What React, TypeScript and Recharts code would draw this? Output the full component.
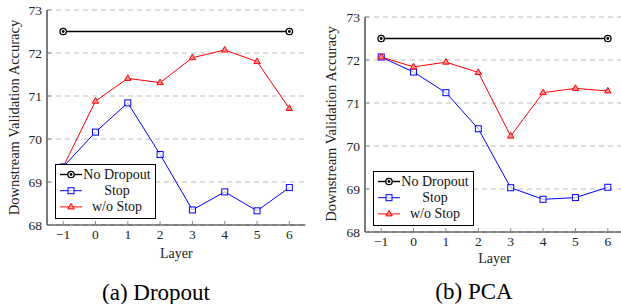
import React from "react";
import { LineChart, Line, XAxis, YAxis, CartesianGrid, Legend } from "recharts";

const layers = [-1, 0, 1, 2, 3, 4, 5, 6];
const noDropoutLayers = [-1, 6];
const yTicks = [68, 69, 70, 71, 72, 73];

const dropoutNoDropout = [72.5, 72.5];
const dropoutStop = [69.35, 70.16, 70.84, 69.64, 68.35, 68.77, 68.33, 68.87];
const dropoutWoStop = [69.35, 70.88, 71.41, 71.31, 71.89, 72.07, 71.8, 70.71];

const pcaNoDropout = [72.5, 72.5];
const pcaStop = [72.07, 71.72, 71.24, 70.4, 69.03, 68.76, 68.8, 69.04];
const pcaWoStop = [72.07, 71.84, 71.95, 71.71, 70.23, 71.24, 71.34, 71.28];

const seriesNames = ["No Dropout", "Stop", "w/o Stop"];
const FONT = "Liberation Serif";
const fontCss = `html body svg text, html body svg tspan { font-family: "Liberation Serif", serif !important; }`;

const toRows = (xs: number[], ys: number[]) => xs.map((x, i) => ({ layer: x, value: ys[i] }));
const fmtX = (v: number) => (v < 0 ? "\u2212" + Math.abs(v) : String(v));

function CircleMark({ cx, cy }: any) {
  if (cx == null || cy == null) return null;
  return (
    <g>
      <circle cx={cx} cy={cy} r={3.2} fill="#fff" stroke="#000" strokeWidth={1.3} />
      <circle cx={cx} cy={cy} r={1.4} fill="#000" />
    </g>
  );
}

function SquareMark({ cx, cy }: any) {
  if (cx == null || cy == null) return null;
  return <rect x={cx - 3} y={cy - 3} width={6} height={6} fill="#fff" fillOpacity={0.7} stroke="#0000ff" strokeWidth={1} />;
}

function TriMark({ cx, cy }: any) {
  if (cx == null || cy == null) return null;
  return (
    <polygon
      points={`${cx},${cy - 3.6} ${cx - 3.2},${cy + 2} ${cx + 3.2},${cy + 2}`}
      fill="#ff9090"
      stroke="#ff0000"
      strokeWidth={1}
    />
  );
}

const marks = [CircleMark, SquareMark, TriMark];
const colors = ["#000", "#0000ff", "#ff0000"];

function LegendBox() {
  return (
    <svg width={101} height={55} style={{ display: "block" }}>
      <rect x={0.5} y={0.5} width={100} height={54} fill="#fff" stroke="#000" strokeWidth={1} />
      {seriesNames.map((name, i) => {
        const y = 10.5 + i * 16.2;
        const M = marks[i];
        return (
          <g key={name}>
            <line x1={5} x2={27} y1={y} y2={y} stroke={colors[i]} strokeWidth={i === 0 ? 1.4 : 1} />
            <M cx={16} cy={y} />
            <text x={62} y={y} textAnchor="middle" dominantBaseline="central" fontSize={14} fontFamily={FONT} fill="#111">
              {name}
            </text>
          </g>
        );
      })}
    </svg>
  );
}

interface PanelProps {
  left: number;
  width: number;
  top: number;
  right: number;
  yWidth: number;
  xHeight: number;
  labelOffset: number;
  legendLeft: number;
  legendTop: number;
  noDrop: number[];
  stop: number[];
  woStop: number[];
}

function Panel(p: PanelProps) {
  const axisLine = { stroke: "#222", strokeWidth: 1.2 };
  const tickLine = { stroke: "#888" };
  const tickStyle = { fontSize: 13.5, fill: "#222", fontFamily: FONT };
  return (
    <div style={{ position: "absolute", left: p.left, top: 0 }}>
      <LineChart
        width={p.width}
        height={304}
        margin={{ top: p.top, right: p.right, left: 0, bottom: 0 }}
      >
        <CartesianGrid horizontal vertical={false} stroke="#bbb" strokeDasharray="5 4" />
        <XAxis
          dataKey="layer"
          type="number"
          domain={[-1.5, 6.5]}
          ticks={layers}
          allowDuplicatedCategory={false}
          height={p.xHeight}
          axisLine={axisLine}
          tickLine={tickLine}
          tickSize={-4}
          tickMargin={8}
          tick={tickStyle}
          tickFormatter={fmtX}
          label={{ value: "Layer", position: "insideTop", offset: p.labelOffset, fontSize: 14, fill: "#222", fontFamily: FONT }}
        />
        <XAxis
          xAxisId="top"
          orientation="top"
          type="number"
          domain={[-1.5, 6.5]}
          ticks={layers}
          height={0}
          axisLine={axisLine}
          tickLine={tickLine}
          tickSize={-4}
          tick={false}
        />
        <YAxis
          type="number"
          domain={[68, 73]}
          ticks={yTicks}
          width={p.yWidth}
          axisLine={axisLine}
          tickLine={tickLine}
          tickSize={-4}
          tickMargin={9}
          tick={tickStyle}
        />
        <YAxis
          yAxisId="right"
          orientation="right"
          type="number"
          domain={[68, 73]}
          ticks={yTicks}
          width={0}
          axisLine={axisLine}
          tickLine={tickLine}
          tickSize={-4}
          tick={false}
        />
        <Legend
          layout="vertical"
          verticalAlign="middle"
          align="center"
          content={() => <LegendBox />}
          wrapperStyle={{ left: p.legendLeft, top: p.legendTop, width: 101, height: 55 }}
        />
        <Line
          data={toRows(noDropoutLayers, p.noDrop)}
          dataKey="value"
          name={seriesNames[0]}
          stroke="#000"
          strokeWidth={1.4}
          dot={<CircleMark />}
          isAnimationActive={false}
        />
        <Line
          data={toRows(layers, p.stop)}
          dataKey="value"
          name={seriesNames[1]}
          stroke="#0000ff"
          strokeWidth={1}
          dot={<SquareMark />}
          isAnimationActive={false}
        />
        <Line
          data={toRows(layers, p.woStop)}
          dataKey="value"
          name={seriesNames[2]}
          stroke="#ff0000"
          strokeWidth={1}
          dot={<TriMark />}
          isAnimationActive={false}
        />
      </LineChart>
    </div>
  );
}

export default function App() {
  return (
    <div style={{ position: "absolute", left: 0, top: 0, width: 621, height: 304, overflow: "hidden", background: "#fff" }}>
      <style>{fontCss}</style>
      <Panel
        left={0}
        width={310}
        top={10}
        right={4.5}
        yWidth={47}
        xHeight={79}
        labelOffset={23}
        legendLeft={55}
        legendTop={164}
        noDrop={dropoutNoDropout}
        stop={dropoutStop}
        woStop={dropoutWoStop}
      />
      <Panel
        left={310}
        width={320}
        top={17}
        right={6}
        yWidth={55}
        xHeight={72}
        labelOffset={21.5}
        legendLeft={63}
        legendTop={171}
        noDrop={pcaNoDropout}
        stop={pcaStop}
        woStop={pcaWoStop}
      />
      <svg width={621} height={304} style={{ position: "absolute", left: 0, top: 0, pointerEvents: "none" }}>
        <text x={13.5} y={117.5} transform="rotate(-90 13.5 117.5)" textAnchor="middle" dominantBaseline="central" fontSize={14.5} fontFamily={FONT} fill="#222">
          Downstream Validation Accuracy
        </text>
        <text x={331} y={124} transform="rotate(-90 331 124)" textAnchor="middle" dominantBaseline="central" fontSize={14.5} fontFamily={FONT} fill="#222">
          Downstream Validation Accuracy
        </text>
      </svg>
      <div style={{ position: "absolute", left: 56, width: 200, top: 279, textAlign: "center", fontFamily: FONT, fontSize: 23, lineHeight: "28px" }}>
        (a) Dropout
      </div>
      <div style={{ position: "absolute", left: 374, width: 200, top: 278, textAlign: "center", fontFamily: FONT, fontSize: 23, lineHeight: "28px" }}>
        (b) PCA
      </div>
    </div>
  );
}
